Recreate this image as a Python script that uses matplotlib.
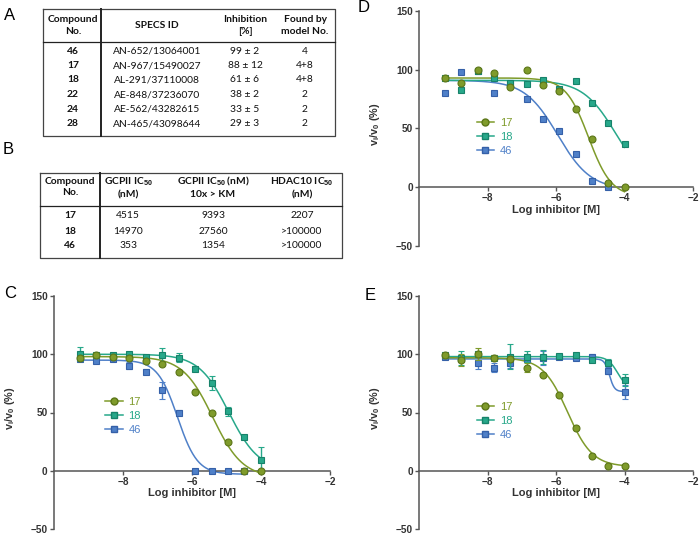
import numpy as np
import matplotlib.pyplot as plt
from matplotlib.lines import Line2D

plt.rcParams['font.family'] = ['Liberation Sans', 'DejaVu Sans']
plt.rcParams['mathtext.fontset'] = 'custom'
plt.rcParams['mathtext.rm'] = 'Liberation Sans'
plt.rcParams['mathtext.bf'] = 'Liberation Sans:bold'

# ---------------- table A ----------------
table_a_header = ['Compound\nNo.', 'SPECS ID', 'Inhibition\n[%]', 'Found by\nmodel No.']
table_a_compound = ['46', '17', '18', '22', '24', '28']
table_a_specs = ['AN-652/13064001', 'AN-967/15490027', 'AL-291/37110008',
                 'AE-848/37236070', 'AE-562/43282615', 'AN-465/43098644']
table_a_inhibition = ['99 ± 2', '88 ± 12', '61 ± 6', '38 ± 2', '33 ± 5', '29 ± 3']
table_a_model = ['4', '4+8', '4+8', '2', '2', '2']

# ---------------- table B ----------------
table_b_header = ['Compound\nNo.', 'GCPII IC$_{\\mathbf{50}}$\n(nM)',
                  'GCPII IC$_{\\mathbf{50}}$ (nM)\n10x > KM', 'HDAC10 IC$_{\\mathbf{50}}$\n(nM)']
table_b_compound = ['17', '18', '46']
table_b_gcpii = ['4515', '14970', '353']
table_b_gcpii_km = ['9393', '27560', '1354']
table_b_hdac10 = ['2207', '>100000', '>100000']

# ---------------- dose-response data ----------------
log_conc = [-9.25, -8.77, -8.29, -7.82, -7.34, -6.86, -6.39, -5.91, -5.43, -4.95, -4.48, -4.00]

# panel C (GCPII)
c_17 = [97, 99, 98, 97, 94, 92, 85, 68, 50, 25, 0, 0]
c_17_err = [0, 2, 0, 0, 0, 0, 0, 0, 0, 0, 0, 1]
c_18 = [100, 99, 99, 100, 98, 99, 97, 87, 75, 51, 29, 9]
c_18_err = [6, 0, 1, 1, 0, 6, 4, 0, 6, 4, 0, 11]
c_46 = [96, 94, 96, 90, 85, 69, 50, 0, 0, 0, 0]
c_46_err = [0, 0, 0, 3, 2, 7, 2, 0, 0, 0, 0]

# panel D (GCPII, 10x > KM)
d_17 = [93, 89, 100, 97.5, 85, 100, 87, 82, 67, 41, 4, 0]
d_18 = [93, 83, 99, 93, 89, 88, 91, 84, 90, 72, 55, 37]
d_46 = [80, 98, 99, 80, 88, 75, 58.5, 48, 28, 5, 0]

# panel E (HDAC10)
e_17 = [99, 95, 100, 97, 96, 88.6, 82, 65, 37, 13, 4.3, 4]
e_17_err = [2, 5, 5, 2, 2, 4, 1, 1, 1, 1, 1, 1]
e_18 = [99, 97, 100, 97, 98, 98, 98, 98.5, 99.4, 95, 92.6, 78]
e_18_err = [1, 6, 2, 1, 11, 5, 6, 1, 2, 1, 3, 5]
e_46 = [98, 96, 92.6, 88.6, 92.6, 96, 97, 98, 97, 98, 86, 68]
e_46_err = [1, 2, 5, 4, 4, 3, 6, 1, 1, 2, 3, 6]

# fitted curve parameters: top, bottom, logIC50, hill
c_fit = {'17': (98, -6, -5.40, 1.0), '18': (100, 0, -4.93, 1.0), '46': (95, -3, -6.42, 1.5)}
d_fit = {'17': (93, -8, -5.05, 1.3), '18': (91, 0, -4.25, 0.9), '46': (91, -2, -5.95, 0.9)}
e_fit = {'17': (97, 3.5, -5.66, 1.2), '18': (98, 70, -4.20, 3.0), '46': (96, 68, -4.44, 6.0)}

series_style = {
    '17': dict(color='#7f9b2b', edge='#5c7618', marker='o'),
    '18': dict(color='#27a88a', edge='#17826a', marker='s'),
    '46': dict(color='#4f80c8', edge='#3560a8', marker='s'),
}


def logistic(x, top, bottom, log_ic50, hill):
    return bottom + (top - bottom) / (1 + 10 ** ((x - log_ic50) * hill))


def style_axis(ax):
    ax.set_xlim(-10, -2)
    ax.set_ylim(-50, 150)
    ax.patch.set_alpha(0)
    ax.spines['top'].set_visible(False)
    ax.spines['right'].set_visible(False)
    ax.spines['bottom'].set_position(('data', 0))
    for s in ['left', 'bottom']:
        ax.spines[s].set_color('#555555')
        ax.spines[s].set_linewidth(1.1)
    ax.set_xticks([-8, -6, -4, -2])
    ax.set_yticks([-50, 0, 50, 100, 150])
    ax.tick_params(direction='out', length=3, width=1, color='#555555',
                   labelsize=7.2, pad=1.5, labelcolor='#333333')
    for lab in ax.get_xticklabels() + ax.get_yticklabels():
        lab.set_fontweight('bold')
    ax.set_xlabel('Log inhibitor [M]', fontweight='bold', fontsize=8,
                  labelpad=1, color='#333333')
    ax.set_ylabel('v$_{\\mathbf{i}}$/v$_{\\mathbf{0}}$ (%)', fontweight='bold',
                  fontsize=7.8, color='#333333')
    ax.yaxis.set_label_coords(-0.135, 0.52)


def draw_panel(ax, data, errors, fits, legend_x, legend_y):
    for z, key in enumerate(['46', '18', '17']):
        st = series_style[key]
        y = data[key]
        x = log_conc[:len(y)]
        xs = np.linspace(x[0], x[-1], 300)
        ax.plot(xs, logistic(xs, *fits[key]), color=st['color'], lw=1.1, zorder=2 + z)
        err = errors.get(key) if errors else None
        ax.errorbar(x, y, yerr=err, fmt=st['marker'], ms=5, mfc=st['color'],
                    mec=st['edge'], mew=0.8, ecolor=st['color'], elinewidth=1,
                    capsize=2.2, capthick=1, zorder=5 + z)
    handles = [Line2D([], [], color=series_style[k]['color'], lw=1.1,
                      marker=series_style[k]['marker'], ms=5,
                      mfc=series_style[k]['color'], mec=series_style[k]['edge'])
               for k in ['17', '18', '46']]
    ax.legend(handles, ['17', '18', '46'], loc='center left',
              bbox_to_anchor=(legend_x, legend_y), frameon=False, fontsize=8,
              labelcolor='linecolor', handlelength=1.6, handletextpad=0.5,
              labelspacing=0.35, borderpad=0, borderaxespad=0)


fig = plt.figure(figsize=(7, 5.36), dpi=100)

# background axes in pixel coordinates for tables and panel letters
bg = fig.add_axes([0, 0, 1, 1])
bg.set_xlim(0, 700)
bg.set_ylim(536, 0)
bg.axis('off')

for letter, (lx, ly) in zip('ABCDE', [(10, 15), (8, 149), (10, 293), (364, 8), (370, 295)]):
    bg.text(lx, ly, letter, fontsize=12, ha='center', va='center')

tfont = dict(family=['Lato', 'DejaVu Sans'], fontsize=7.4, color='#111111')

# table A
a_cols = [73, 157, 245, 305]
a_rows = [51, 66, 80, 94.5, 109, 124]
bg.plot([43, 335, 335, 43, 43], [9, 9, 136, 136, 9], color='#444444', lw=0.9)
bg.plot([101, 101], [9, 136], color='#222222', lw=1.4)
bg.plot([43, 335], [42, 42], color='#222222', lw=0.9)
for cx, h in zip(a_cols, table_a_header):
    bg.text(cx, 25.5, h, ha='center', va='center', fontweight='bold', linespacing=1.3, **tfont)
for i, ry in enumerate(a_rows):
    bg.text(a_cols[0], ry, table_a_compound[i], ha='center', va='center', fontweight='bold', **tfont)
    bg.text(a_cols[1], ry, table_a_specs[i], ha='center', va='center', **tfont)
    bg.text(a_cols[2], ry, table_a_inhibition[i], ha='center', va='center', **tfont)
    bg.text(a_cols[3], ry, table_a_model[i], ha='center', va='center', **tfont)

# table B
b_cols = [70, 128, 213, 302]
b_rows = [216, 231, 245]
bg.plot([40, 342, 342, 40, 40], [173, 173, 258, 258, 173], color='#444444', lw=0.9)
bg.plot([100, 100], [173, 258], color='#222222', lw=1.4)
bg.plot([40, 342], [206, 206], color='#222222', lw=0.9)
for cx, h in zip(b_cols, table_b_header):
    bg.text(cx, 187, h, ha='center', va='center', fontweight='bold', linespacing=1.3, **tfont)
for i, ry in enumerate(b_rows):
    bg.text(b_cols[0], ry, table_b_compound[i], ha='center', va='center', fontweight='bold', **tfont)
    bg.text(b_cols[1], ry, table_b_gcpii[i], ha='center', va='center', **tfont)
    bg.text(b_cols[2], ry, table_b_gcpii_km[i], ha='center', va='center', **tfont)
    bg.text(b_cols[3], ry, table_b_hdac10[i], ha='center', va='center', **tfont)

# plot panels (positions in figure fractions)
ax_c = fig.add_axes([54 / 700, 1 - 529 / 536, 276 / 700, 233 / 536])
ax_d = fig.add_axes([419 / 700, 1 - 246 / 536, 274 / 700, 235 / 536])
ax_e = fig.add_axes([419 / 700, 1 - 529 / 536, 274 / 700, 233 / 536])

for ax in (ax_c, ax_d, ax_e):
    style_axis(ax)

draw_panel(ax_c, {'17': c_17, '18': c_18, '46': c_46},
           {'17': c_17_err, '18': c_18_err, '46': c_46_err}, c_fit, 0.185, 0.486)
draw_panel(ax_d, {'17': d_17, '18': d_18, '46': d_46}, None, d_fit, 0.21, 0.465)
draw_panel(ax_e, {'17': e_17, '18': e_18, '46': e_46},
           {'17': e_17_err, '18': e_18_err, '46': e_46_err}, e_fit, 0.21, 0.465)

fig.savefig('out.png', dpi=100, facecolor='white')
